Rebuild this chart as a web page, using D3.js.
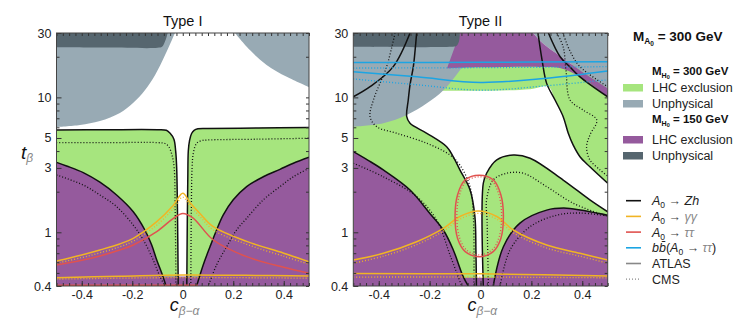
<!DOCTYPE html>
<html>
<head>
<meta charset="utf-8">
<script src="https://cdn.jsdelivr.net/npm/d3@7"></script>
<style>
  body { margin: 0; background: #fff; }
  text { font-family: "Liberation Sans", Arial, Helvetica, sans-serif; }
</style>
</head>
<body>
<svg id="chart" width="747" height="320"></svg>
<script>
// tick labels
const xLabels = [-0.4, -0.2, 0, 0.2, 0.4];
const yLabels = [0.4, 1, 3, 5, 10, 30];
const yMinor = [0.5, 0.6, 0.7, 0.8, 0.9, 2, 4, 6, 7, 8, 9, 20];

// ---- Type I : contours as [c_(beta-alpha), t_beta]
const t1GreenLeft = [[-0.5,5.73],[-0.3,5.76],[-0.1,5.76],[-0.065,5.7],[-0.05,5.42],[-0.035,4.9],[-0.028,4.0],[-0.024,3.0],[-0.021,1.5],[-0.018,0.4]];
const t1GreenRight = [[0.016,0.4],[0.018,1.2],[0.02,2.5],[0.022,4.0],[0.027,4.8],[0.035,5.4],[0.045,5.7],[0.06,5.85],[0.1,5.88],[0.3,5.93],[0.5,5.97]];
const t1GreenLeftCMS = [[-0.5,4.62],[-0.3,4.62],[-0.1,4.62],[-0.07,4.55],[-0.055,4.3],[-0.042,3.7],[-0.034,3.0],[-0.03,1.5],[-0.027,0.4]];
const t1GreenRightCMS = [[0.032,0.4],[0.034,1.5],[0.037,3.0],[0.042,3.87],[0.055,4.57],[0.075,4.78],[0.095,4.83],[0.3,4.9],[0.5,4.98]];
const t1GrayLeft = [[-0.031,30],[-0.043,26.6],[-0.07,20.6],[-0.11,14.6],[-0.15,11.3],[-0.197,9.09],[-0.249,7.66],[-0.328,6.68],[-0.407,6.24],[-0.5,6.03]];
const t1GrayRight = [[0.207,30],[0.266,22.4],[0.332,17.4],[0.412,14.2],[0.5,11.9]];
const t1DarkGray = [[-0.06,30],[-0.064,28],[-0.072,25.5],[-0.082,23.7],[-0.1,23.3],[-0.3,23.4],[-0.5,23.5]];
const t1PurpleLeft = [[-0.5,3.30],[-0.46,3.10],[-0.394,2.77],[-0.328,2.35],[-0.262,1.89],[-0.196,1.42],[-0.15,1.04],[-0.123,0.805],[-0.103,0.623],[-0.083,0.497],[-0.066,0.4]];
const t1PurpleRight = [[0.5,3.60],[0.438,3.25],[0.385,2.93],[0.319,2.58],[0.253,2.18],[0.2,1.74],[0.16,1.34],[0.134,1.04],[0.108,0.782],[0.081,0.573],[0.055,0.4]];
const t1PurpleLeftCMS = [[-0.5,2.66],[-0.394,2.24],[-0.328,1.89],[-0.262,1.55],[-0.196,1.13],[-0.156,0.877],[-0.117,0.623],[-0.09,0.469],[-0.07,0.4]];
const t1PurpleRightCMS = [[0.5,2.98],[0.438,2.58],[0.385,2.18],[0.319,1.74],[0.253,1.27],[0.213,1.04],[0.174,0.782],[0.134,0.573],[0.101,0.4]];
const t1StripTop = 0.47;
const t1YellowPeak = [[-0.5,0.613],[-0.4,0.68],[-0.328,0.74],[-0.25,0.82],[-0.196,0.903],[-0.103,1.2],[-0.037,1.59],[0,1.95],[0.03,1.65],[0.068,1.38],[0.121,1.1],[0.253,0.856],[0.4,0.7],[0.5,0.605]];
const t1YellowPeakCMS = [[-0.5,0.59],[-0.4,0.65],[-0.328,0.705],[-0.25,0.78],[-0.196,0.86],[-0.103,1.13],[-0.037,1.5],[0,1.82],[0.03,1.56],[0.068,1.31],[0.121,1.04],[0.253,0.815],[0.4,0.665],[0.5,0.58]];
const t1YellowLow = [[-0.5,0.461],[-0.25,0.472],[0,0.483],[0.25,0.48],[0.5,0.475]];
const t1YellowLowCMS = [[-0.5,0.45],[0,0.462],[0.5,0.457]];
const t1RedPeak = [[-0.5,0.573],[-0.4,0.62],[-0.328,0.668],[-0.25,0.74],[-0.196,0.805],[-0.103,1.01],[-0.037,1.27],[0,1.38],[0.04,1.28],[0.121,0.877],[0.253,0.66],[0.4,0.55],[0.5,0.497]];
const t1RedLow = [[-0.5,0.405],[0,0.405],[0.06,0.405]];

// ---- Type II
const t2GrayLeft = [[-0.01,30],[-0.041,21.2],[-0.081,15.9],[-0.146,11.3],[-0.211,9.04],[-0.29,7.4],[-0.382,6.43],[-0.5,6.06]];
const t2GrayRight = [[0.206,30],[0.253,24.4],[0.312,20.3],[0.391,15.9],[0.5,11.7]];
const t2DarkGray = [[-0.081,30],[-0.085,25.8],[-0.095,24],[-0.115,23.7],[-0.5,23.7]];
const t2PurpleTopLower = [[0.5,10.1],[0.391,14.2],[0.312,16.5],[0.23,16.8],[-0.002,16.7],[-0.132,16.4]];
const t2GreenUpper = [[0.5,2.31],[0.43,3.06],[0.391,3.63],[0.364,4.44],[0.345,5.42],[0.325,7.19],[0.293,9.56],[0.267,12.0],[0.195,11.5],[0.037,11.2],[-0.159,11.2],[-0.3,11.2]];
const t2ZhLeft = [[-0.251,30],[-0.257,22.4],[-0.264,16.9],[-0.277,12.4],[-0.284,9.56],[-0.29,7.19],[-0.277,6.43],[-0.211,5.42],[-0.133,4.31],[-0.107,3.63],[-0.081,2.9],[-0.041,2.06],[-0.022,1.31],[-0.018,0.74],[-0.016,0.4]];
const t2ZhLeftCMS = [[-0.336,30],[-0.369,16.9],[-0.421,9.56],[-0.434,7.19],[-0.408,6.06],[-0.329,5.42],[-0.211,4.57],[-0.12,3.74],[-0.081,3.15],[-0.041,2.17],[-0.028,1.31],[-0.026,0.4]];
const t2ZhCorner = [[-0.277,30],[-0.343,16.9],[-0.434,12.0],[-0.5,10.1]];
const t2ZhLobe = [[0.011,0.4],[0.011,2.31],[0.024,2.74],[0.064,3.44],[0.129,3.74],[0.195,3.54],[0.325,2.44],[0.43,1.74],[0.5,1.42]];
const t2ZhLobeCMS = [[0.031,0.4],[0.026,1.2],[0.024,1.74],[0.05,2.44],[0.103,2.74],[0.168,2.74],[0.26,2.18],[0.365,1.64],[0.5,1.31]];
const t2ZhRight = [[0.226,30],[0.242,18.9],[0.26,12.7],[0.293,9.56],[0.325,7.19],[0.345,5.42],[0.364,4.44],[0.391,3.63],[0.43,3.06],[0.5,2.31]];
const t2ZhRightCMS = [[0.3,30],[0.325,23.7],[0.336,15.9],[0.352,9.56],[0.403,8.06],[0.457,6.8],[0.43,5.26],[0.417,4.31],[0.43,3.44],[0.47,2.9],[0.5,2.61]];
const t2ZhEdge = [[0.267,30],[0.313,20.0],[0.352,16.8],[0.391,14.2],[0.5,10.1]];
const t2ZhEdgeCMS = [[0.324,30],[0.35,22.4],[0.391,16.9],[0.5,12.0]];
const t2PurpleLeft = [[-0.5,3.96],[-0.44,3.4],[-0.382,2.9],[-0.277,2.06],[-0.199,1.38],[-0.146,1.04],[-0.107,0.74],[-0.068,0.469],[-0.048,0.4]];
const t2PurpleLeftCMS = [[-0.5,3.25],[-0.382,2.58],[-0.251,1.84],[-0.172,1.23],[-0.12,0.68],[-0.074,0.4]];
const t2PurpleRight = [[0.05,0.4],[0.09,0.782],[0.155,1.17],[0.26,1.46],[0.339,1.51],[0.43,1.42],[0.5,1.34]];
const t2PurpleRightCMS = [[0.077,0.4],[0.116,0.74],[0.195,1.1],[0.3,1.34],[0.391,1.39],[0.5,1.32]];
const t2StripTop = 0.46;
const t2YellowPeak = [[-0.5,0.623],[-0.382,0.699],[-0.251,0.852],[-0.146,1.07],[-0.081,1.31],[-0.01,1.44],[0.064,1.31],[0.129,1.04],[0.26,0.805],[0.391,0.699],[0.5,0.623]];
const t2YellowPeakCMS = [[-0.5,0.59],[-0.382,0.665],[-0.251,0.81],[-0.146,1.02],[-0.081,1.25],[-0.01,1.38],[0.064,1.25],[0.129,0.99],[0.26,0.765],[0.391,0.665],[0.5,0.59]];
const t2YellowLow = [[-0.5,0.495],[0,0.492],[0.25,0.485],[0.5,0.475]];
const t2YellowLowCMS = [[-0.5,0.466],[0,0.466],[0.5,0.46]];
const t2RedEllipse = [[-0.005,2.65],[0.05,2.45],[0.08,1.9],[0.09,1.32],[0.08,0.9],[0.05,0.72],[-0.005,0.66],[-0.06,0.72],[-0.09,0.9],[-0.1,1.32],[-0.09,1.9],[-0.06,2.45]];
const t2RedEllipseCMS = [[-0.005,2.58],[0.045,2.4],[0.073,1.88],[0.083,1.32],[0.073,0.92],[0.045,0.74],[-0.005,0.68],[-0.055,0.74],[-0.083,0.92],[-0.093,1.32],[-0.083,1.88],[-0.055,2.4]];
const t2BlueHigh = [[-0.5,18.1],[0,18.2],[0.5,18.4]];
const t2BlueHighCMS = [[-0.5,16.5],[0,16.6],[0.5,16.9]];
const t2BlueLow = [[-0.5,15.5],[-0.25,14.2],[0,12.9],[0.25,13.8],[0.5,15.7]];
const t2BlueLowCMS = [[-0.5,13.7],[-0.25,12.4],[0,11.3],[0.26,12.2],[0.5,13.5]];

const col = {green:"#a6e57e", gray:"#98aab4", purple:"#955a9d", dark:"#56666f",
             black:"#111", yellow:"#f1b424", red:"#e0524f", blue:"#1ca5e3"};

const svg = d3.select("#chart");
const y = d3.scaleLog().domain([0.4, 30]).range([286, 33]);

// a fill is a list of parts: [points, smooth?]; parts are chained and closed
function drawPanel(x, title, fills, lines) {
  const [x0, x1] = x.range();
  const id = "clip" + Math.round(x0);
  svg.append("clipPath").attr("id", id).append("rect")
    .attr("x", x0).attr("y", 33).attr("width", x1 - x0).attr("height", 253);
  const plot = svg.append("g").attr("clip-path", `url(#${id})`);
  const smooth = d3.line().x(d => x(d[0])).y(d => y(d[1])).curve(d3.curveCatmullRom.alpha(0.5));
  const straight = d3.line().x(d => x(d[0])).y(d => y(d[1]));
  const closed = d3.line().x(d => x(d[0])).y(d => y(d[1])).curve(d3.curveCatmullRomClosed.alpha(0.5));

  fills.forEach(f => {
    const d = f[0].map((p, i) => {
      const s = p[1] ? smooth(p[0]) : straight(p[0]);
      return i ? "L" + s.slice(1) : s;
    }).join("") + "Z";
    plot.append("path").attr("d", d).attr("fill", f[1]);
  });
  lines.forEach(l => {
    const p = plot.append("path").attr("d", l[3] ? closed(l[0]) : smooth(l[0]))
      .attr("fill", "none").attr("stroke", l[1])
      .attr("stroke-width", l[2] ? 1.3 : 1.5);
    if (l[2]) p.attr("stroke-dasharray", "1,2");
  });

  // axes, ticks pointing inward
  const xMinor = d3.range(-0.5, 0.5001, 0.025);
  const fx = d => d === 0 ? "0" : d.toFixed(1);
  const ax = [];
  ax.push(svg.append("g").attr("transform", "translate(0,286)")
    .call(d3.axisBottom(x).tickValues(xLabels).tickSize(-5).tickPadding(4).tickFormat(fx)));
  ax.push(svg.append("g").attr("transform", "translate(0,286)")
    .call(d3.axisBottom(x).tickValues(xMinor).tickSize(-3).tickFormat("")));
  ax.push(svg.append("g").attr("transform", "translate(0,33)")
    .call(d3.axisTop(x).tickValues(xMinor).tickSize(-3).tickFormat("")));
  ax.push(svg.append("g").attr("transform", `translate(${x0},0)`)
    .call(d3.axisLeft(y).tickValues(yLabels).tickSize(-5).tickPadding(5).tickFormat(d => String(d))));
  ax.push(svg.append("g").attr("transform", `translate(${x0},0)`)
    .call(d3.axisLeft(y).tickValues(yMinor).tickSize(-3).tickFormat("")));
  ax.push(svg.append("g").attr("transform", `translate(${x1},0)`)
    .call(d3.axisRight(y).tickValues(yLabels.concat(yMinor)).tickSize(-3).tickFormat("")));
  ax.forEach(a => {
    a.select(".domain").remove();
    a.selectAll("line").attr("stroke", "#333");
    a.selectAll("text").attr("font-size", 12.5).attr("fill", "#222")
      .attr("font-family", "'Liberation Sans', Arial, sans-serif");
  });
  svg.append("rect").attr("x", x0).attr("y", 33).attr("width", x1 - x0).attr("height", 253)
    .attr("fill", "none").attr("stroke", "#444").attr("stroke-width", 1);

  svg.append("text").attr("x", (x0 + x1) / 2).attr("y", 26).attr("text-anchor", "middle")
    .attr("font-size", 14.5).attr("fill", "#111").text(title);

  const xl = svg.append("text").attr("x", x(0) - 13).attr("y", 311);
  xl.append("tspan").attr("font-size", 18).attr("font-style", "italic").attr("fill", "#111").text("c");
  xl.append("tspan").attr("font-size", 12).attr("dy", 4).attr("font-style", "italic").attr("fill", "#888").text("β−α");
}

const xI = d3.scaleLinear().domain([-0.5, 0.5]).range([56.5, 309]);
const xII = d3.scaleLinear().domain([-0.5, 0.5]).range([353.3, 607.7]);

drawPanel(xI, "Type I",
  [
    [[[t1GreenLeft, true], [[[-0.5,0.4]], false]], col.green],
    [[[t1GreenRight, true], [[[0.5,0.4]], false]], col.green],
    [[[t1GrayLeft, true], [[[-0.5,30]], false]], col.gray],
    [[[t1GrayRight, true], [[[0.5,30]], false]], col.gray],
    [[[t1PurpleLeft, true], [[[-0.5,0.4]], false]], col.purple],
    [[[t1PurpleRight, true], [[[0.5,0.4]], false]], col.purple],
    [[[[[-0.5,0.38],[-0.5,t1StripTop],[0.5,t1StripTop],[0.5,0.38]], false]], col.purple],
    [[[t1DarkGray, true], [[[-0.5,30]], false]], col.dark]
  ],
  [
    [t1GreenLeftCMS, col.black, true], [t1GreenRightCMS, col.black, true],
    [t1PurpleLeftCMS, col.black, true], [t1PurpleRightCMS, col.black, true],
    [t1GreenLeft, col.black, false], [t1GreenRight, col.black, false],
    [t1PurpleLeft, col.black, false], [t1PurpleRight, col.black, false],
    [t1YellowPeakCMS, col.yellow, true], [t1YellowLowCMS, col.yellow, true],
    [t1YellowPeak, col.yellow, false], [t1YellowLow, col.yellow, false],
    [t1RedPeak, col.red, false], [t1RedLow, col.red, false]
  ]);

drawPanel(xII, "Type II",
  [
    [[[t2GreenUpper, true], [[[-0.3,17.5],[0.5,17.5]], false]], col.green],
    [[[t2ZhLeft.slice(3).reverse(), true], [[[-0.5,12],[-0.5,0.4]], false]], col.green],
    [[[t2ZhLobe, true], [[[0.5,0.4]], false]], col.green],
    [[[t2GrayLeft, true], [[[-0.5,30]], false]], col.gray],
    [[[t2GrayRight, true], [[[0.5,30]], false]], col.gray],
    [[[t2GrayRight, true], [t2PurpleTopLower, true], [[[-0.081,30]], false]], col.purple],
    [[[t2PurpleLeft, true], [[[-0.5,0.4]], false]], col.purple],
    [[[t2PurpleRight, true], [[[0.5,0.4]], false]], col.purple],
    [[[[[-0.5,0.38],[-0.5,t2StripTop],[0.5,t2StripTop],[0.5,0.38]], false]], col.purple],
    [[[t2DarkGray, true], [[[-0.5,30]], false]], col.dark]
  ],
  [
    [t2ZhLeftCMS, col.black, true], [t2ZhLobeCMS, col.black, true],
    [t2ZhRightCMS, col.black, true], [t2ZhEdgeCMS, col.black, true],
    [t2PurpleLeftCMS, col.black, true], [t2PurpleRightCMS, col.black, true],
    [t2ZhLeft, col.black, false], [t2ZhCorner, col.black, false],
    [t2ZhLobe, col.black, false], [t2ZhRight, col.black, false], [t2ZhEdge, col.black, false],
    [t2PurpleLeft, col.black, false], [t2PurpleRight, col.black, false],
    [t2BlueHighCMS, col.blue, true], [t2BlueLowCMS, col.blue, true],
    [t2BlueHigh, col.blue, false], [t2BlueLow, col.blue, false],
    [t2YellowPeakCMS, col.yellow, true], [t2YellowLowCMS, col.yellow, true],
    [t2YellowPeak, col.yellow, false], [t2YellowLow, col.yellow, false],
    [t2RedEllipseCMS, col.red, true, true], [t2RedEllipse, col.red, false, true]
  ]);

// y label
const yl = svg.append("text").attr("x", 21).attr("y", 159);
yl.append("tspan").attr("font-size", 19).attr("font-style", "italic").attr("fill", "#111").text("t");
yl.append("tspan").attr("font-size", 12).attr("dy", 3).attr("font-style", "italic").attr("fill", "#888").text("β");

// ---- legend
const legendHeads = ["300", "150"];
const legendAreas = [
  [["LHC exclusion", col.green], ["Unphysical", col.gray]],
  [["LHC exclusion", col.purple], ["Unphysical", col.dark]]
];
const legendLines = [
  {a: "A", b: "Zh", color: col.black, dash: false},
  {a: "A", b: "γγ", color: col.yellow, dash: false},
  {a: "A", b: "ττ", color: col.red, dash: false},
  {a: "bb", b: "ττ", color: col.blue, dash: false},
  {plain: "ATLAS", color: "#888", dash: false},
  {plain: "CMS", color: "#888", dash: true}
];

function massLabel(xp, yp, sub, val, fs) {
  const t = svg.append("text").attr("x", xp).attr("y", yp).attr("font-weight", "bold")
    .attr("font-size", fs).attr("fill", "#111");
  t.append("tspan").text("M");
  t.append("tspan").attr("font-size", fs * 0.62).attr("dy", fs * 0.25).text(sub);
  t.append("tspan").attr("font-size", fs * 0.48).attr("dy", fs * 0.12).text("0");
  t.append("tspan").attr("dy", -fs * 0.37).text(" = " + val + " GeV");
}
massLabel(633, 41, "A", "300", 13.5);

legendHeads.forEach((h, i) => {
  const y0 = 75 + i * 48;
  massLabel(652, y0, "H", h, 11.5);
  legendAreas[i].forEach((a, j) => {
    const yy = y0 + 9 + j * 16 + (i === 1 ? 4 : 0);
    svg.append("rect").attr("x", 623).attr("y", yy).attr("width", 20).attr("height", 7.5).attr("fill", a[1]);
    svg.append("text").attr("x", 652).attr("y", yy + 8).attr("font-size", 12.5).attr("fill", "#222").text(a[0]);
  });
});

legendLines.forEach((l, i) => {
  const yy = 200.7 + i * 15.7;
  const ln = svg.append("line").attr("x1", 626).attr("x2", 641).attr("y1", yy).attr("y2", yy)
    .attr("stroke", l.color).attr("stroke-width", 1.6);
  if (l.dash) ln.attr("stroke-dasharray", "1,2").attr("stroke-width", 1.2);
  const t = svg.append("text").attr("x", 652).attr("y", yy + 4.5).attr("font-size", 12.5).attr("fill", "#222");
  if (l.plain) { t.text(l.plain); return; }
  if (l.a === "bb") {
    t.append("tspan").attr("font-style", "italic").text("b");
    t.append("tspan").attr("font-style", "italic").text("b\u0304");
    t.append("tspan").text("(");
    t.append("tspan").attr("font-style", "italic").text("A");
  } else {
    t.append("tspan").attr("font-style", "italic").text("A");
  }
  t.append("tspan").attr("font-size", 8.5).attr("dy", 3).text("0");
  t.append("tspan").attr("dy", -3).attr("fill", "#444").text(" \u2192 ");
  t.append("tspan").attr("font-style", "italic").attr("fill", l.b === "Zh" ? "#222" : "#888").text(l.b);
  if (l.a === "bb") t.append("tspan").text(")");
});
</script>
</body>
</html>
